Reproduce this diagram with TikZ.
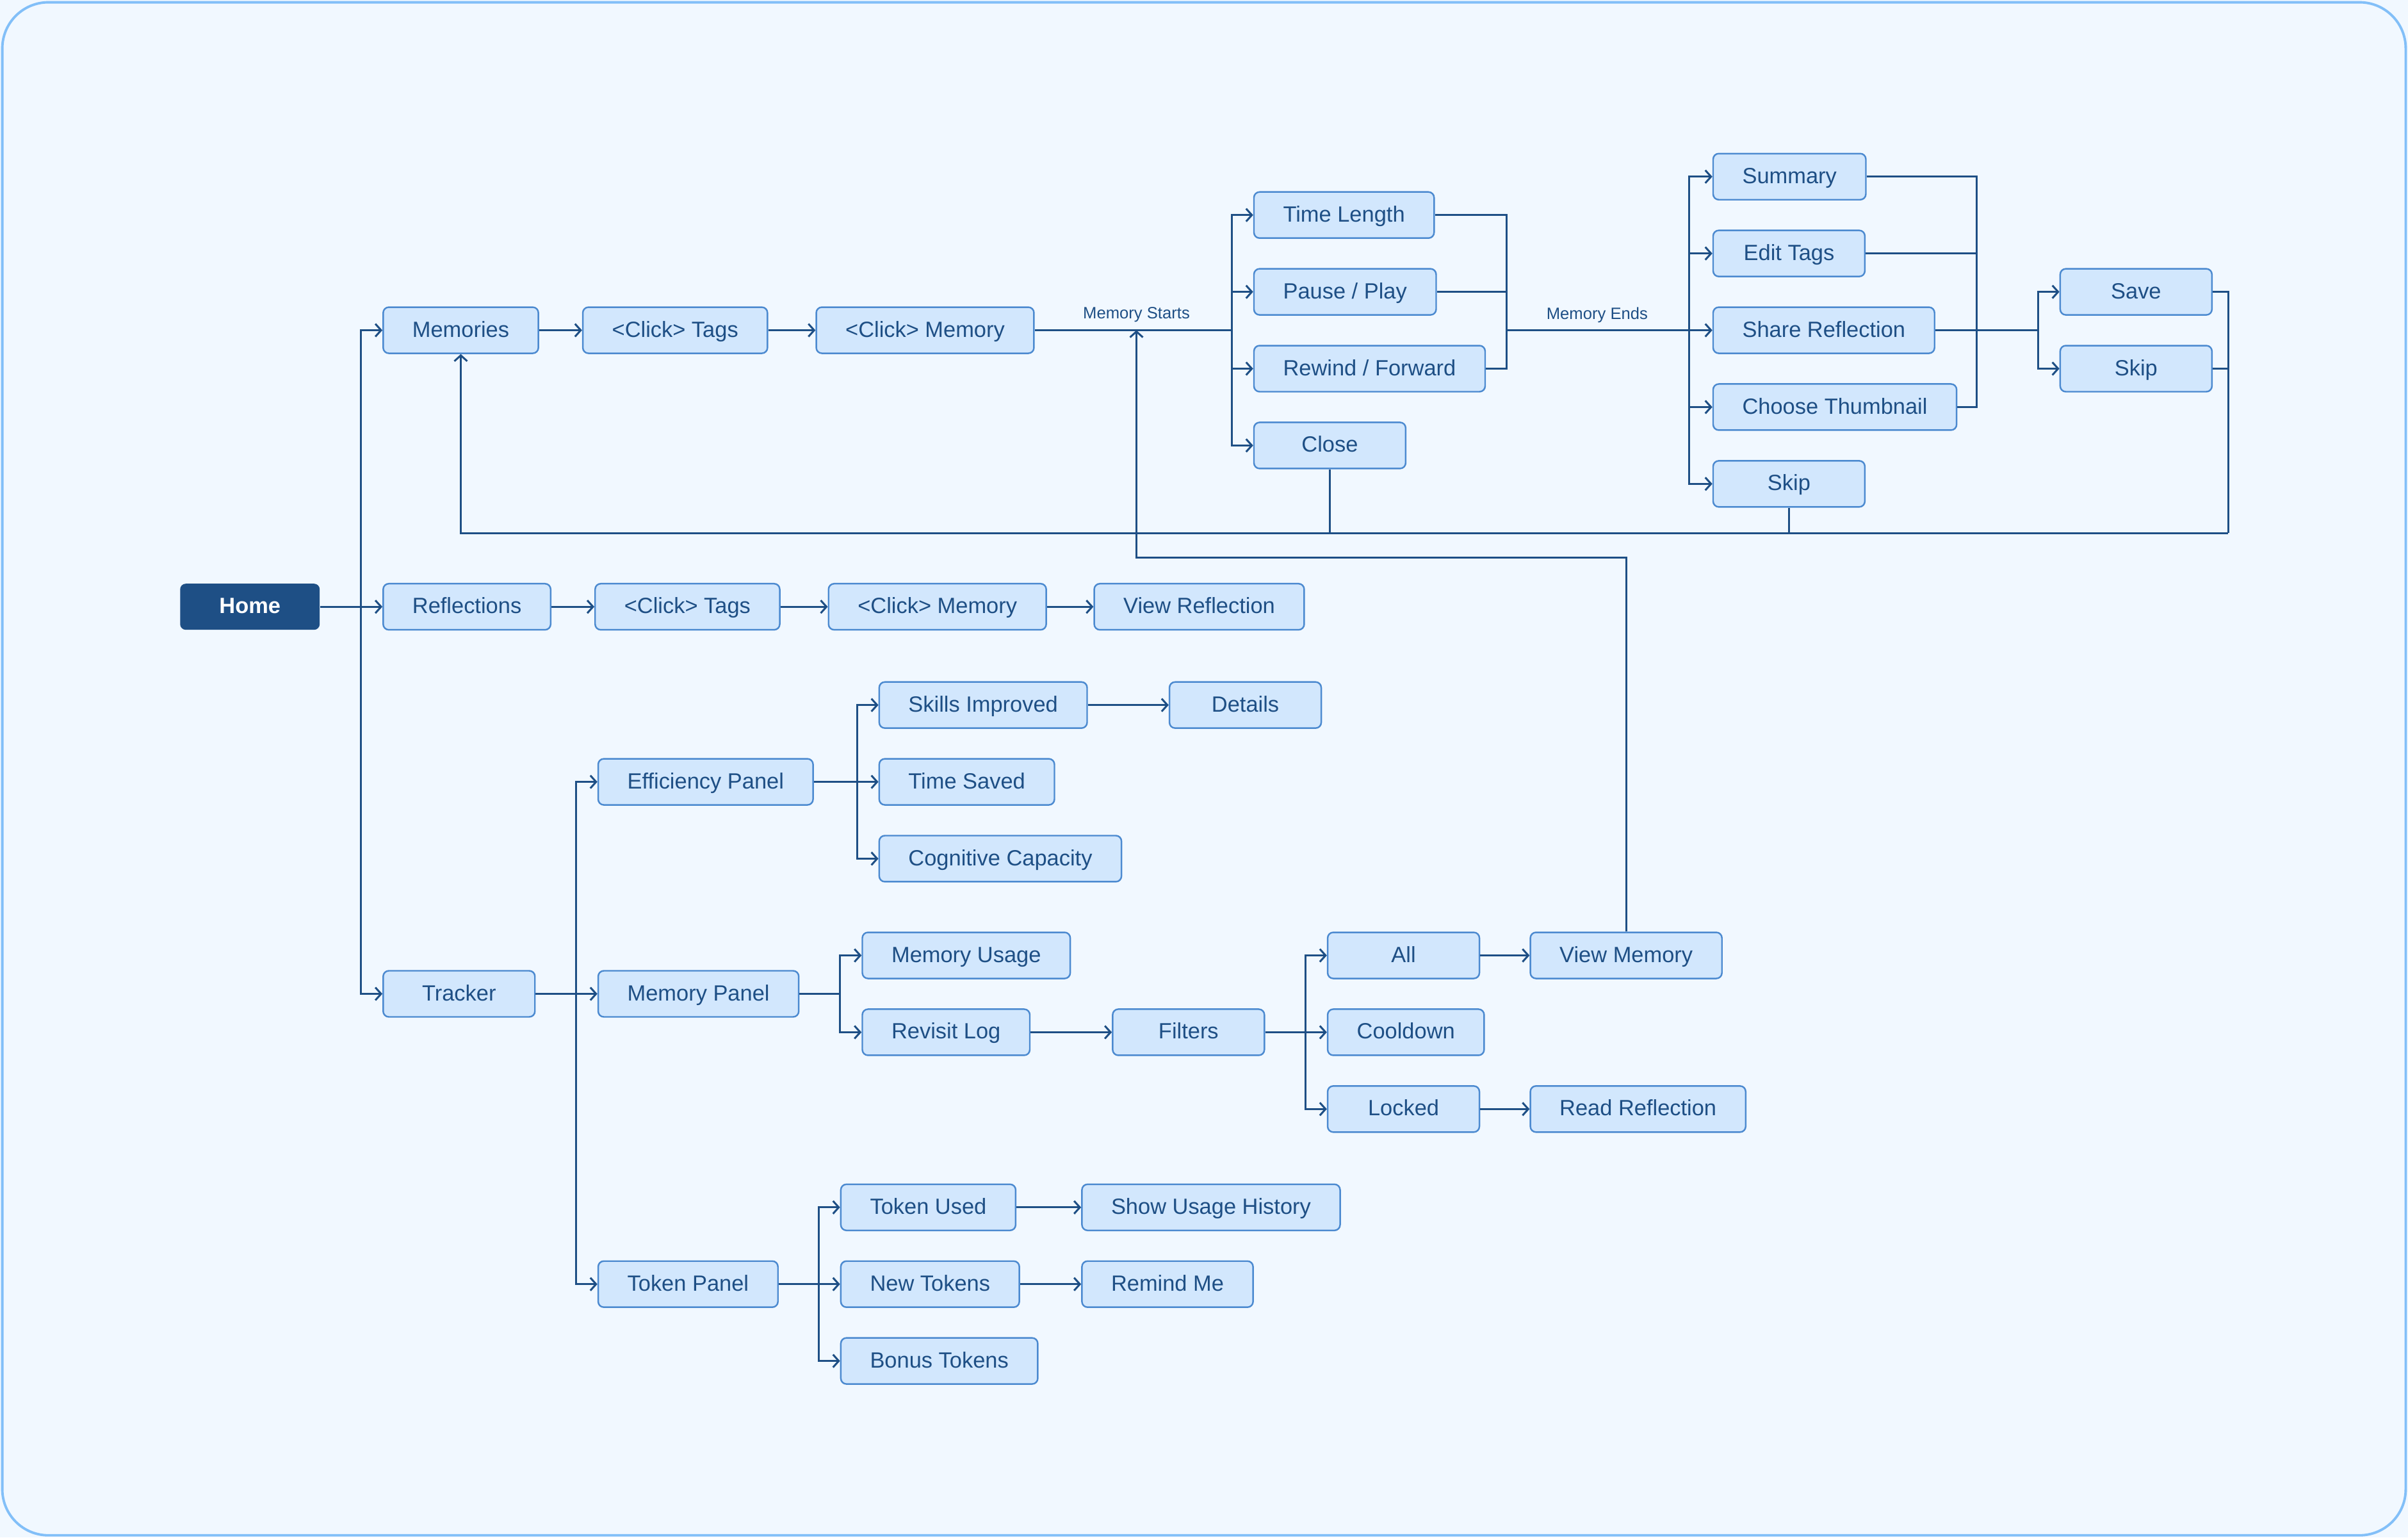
\documentclass[tikz,border=0pt]{standalone}
\usepackage{fontspec}
\setmainfont{Liberation Sans}
\usepackage{tikz}
\usetikzlibrary{arrows.meta, positioning, calc}
\definecolor{navy1}{RGB}{30, 79, 133}
\definecolor{fill1}{RGB}{210, 231, 253}
\definecolor{line1}{RGB}{76, 138, 208}
\definecolor{page1}{RGB}{241, 248, 255}
\definecolor{frame1}{RGB}{130, 191, 248}

\begin{document}
\begin{tikzpicture}[
  x={(0.02398cm,0)}, y={(0,-0.02398cm)},
  sbox/.style={draw=line1, fill=fill1, line width=0.7pt, rounded corners=2.5pt, minimum height=0.72cm, minimum width=2.37cm, inner xsep=0.456cm, text height=0.75em, text depth=0.15em, anchor=west, text=navy1, font=\fontsize{9.8}{12}\selectfont},
  homebox/.style={fill=navy1, rounded corners=2.5pt, minimum height=0.72cm, minimum width=2.18cm, text height=0.75em, text depth=0.15em, anchor=west, text=white, font=\fontsize{9.8}{12}\selectfont\bfseries},
  lbl/.style={text=navy1, font=\fontsize{7.3}{9}\selectfont, inner sep=1pt},
  conn/.style={draw=navy1, line width=0.85pt},
  arr/.style={conn, -{Straight Barb[length=0.09cm, width=0.2cm]}}
]
  \fill[page1] (0,0) rectangle (1568,1001);
  \useasboundingbox (0,0) rectangle (1568,1001);
  \draw[frame1, line width=1.1pt, rounded corners=0.72cm] (1.5,1.5) rectangle (1566.5,999.5);

  % Memories branch
  \node[homebox] (home) at (117,395) {Home};
  \node[sbox] (mem) at (249,215) {Memories};
  \node[sbox] (ctag1) at (379,215) {<Click> Tags};
  \node[sbox] (cmem1) at (531,215) {<Click> Memory};
  \node[sbox] (tlen) at (816,140) {Time Length};
  \node[sbox] (pause) at (816,190) {Pause / Play};
  \node[sbox] (rew) at (816,240) {Rewind / Forward};
  \node[sbox] (close) at (816,290) {Close};
  \node[sbox] (summ) at (1115,115) {Summary};
  \node[sbox] (edit) at (1115,165) {Edit Tags};
  \node[sbox] (share) at (1115,215) {Share Reflection};
  \node[sbox] (thumb) at (1115,265) {Choose Thumbnail};
  \node[sbox] (skip1) at (1115,315) {Skip};
  \node[sbox] (save) at (1341,190) {Save};
  \node[sbox] (skip2) at (1341,240) {Skip};
  \node[lbl] (lstart) at (740,205) {Memory Starts};
  \node[lbl] (lend) at (1040,205) {Memory Ends};

  % Reflections branch
  \node[sbox] (refl) at (249,395) {Reflections};
  \node[sbox] (ctag2) at (387,395) {<Click> Tags};
  \node[sbox] (cmem2) at (539,395) {<Click> Memory};
  \node[sbox] (vref) at (712,395) {View Reflection};

  % Tracker branch
  \node[sbox] (trk) at (249,647) {Tracker};
  \node[sbox] (effp) at (389,509) {Efficiency Panel};
  \node[sbox] (skill) at (572,459) {Skills Improved};
  \node[sbox] (det) at (761,459) {Details};
  \node[sbox] (tsav) at (572,509) {Time Saved};
  \node[sbox] (cogn) at (572,559) {Cognitive Capacity};
  \node[sbox] (mpan) at (389,647) {Memory Panel};
  \node[sbox] (muse) at (561,622) {Memory Usage};
  \node[sbox] (rlog) at (561,672) {Revisit Log};
  \node[sbox] (filt) at (724,672) {Filters};
  \node[sbox] (all) at (864,622) {All};
  \node[sbox] (cool) at (864,672) {Cooldown};
  \node[sbox] (lock) at (864,722) {Locked};
  \node[sbox] (vmem) at (996,622) {View Memory};
  \node[sbox] (rref) at (996,722) {Read Reflection};
  \node[sbox] (tokp) at (389,836) {Token Panel};
  \node[sbox] (tused) at (547,786) {Token Used};
  \node[sbox] (newt) at (547,836) {New Tokens};
  \node[sbox] (bonus) at (547,886) {Bonus Tokens};
  \node[sbox] (hist) at (704,786) {Show Usage History};
  \node[sbox] (remind) at (704,836) {Remind Me};

  \coordinate (b1) at (235,395);
  \coordinate (s1) at (802,215);
  \coordinate (e1) at (981,215);
  \coordinate (e2) at (1100,215);
  \coordinate (r1) at (1287,215);
  \coordinate (r2) at (1327,215);
  \coordinate (l1) at (1451,347);
  \coordinate (m1) at (740,215);
  \coordinate (m2) at (740,363);
  \coordinate (t1) at (375,647);
  \coordinate (f1) at (558,509);
  \coordinate (p1) at (547,647);
  \coordinate (q1) at (850,672);
  \coordinate (k1) at (533,836);

  \draw[arr] (home) -- (refl);
  \draw[arr] (b1) |- (mem);
  \draw[arr] (b1) |- (trk);
  \draw[arr] (mem) -- (ctag1);
  \draw[arr] (ctag1) -- (cmem1);
  \draw[conn] (cmem1) -- (s1);
  \foreach \n in {tlen, pause, rew, close}
    \draw[arr] (s1) |- (\n);
  \foreach \n in {tlen, pause, rew}
    \draw[conn] (\n.east) -| (e1);
  \draw[conn] (e1) -- (e2);
  \foreach \n in {summ, edit, share, thumb, skip1}
    \draw[arr] (e2) |- (\n);
  \foreach \n in {summ, edit, thumb}
    \draw[conn] (\n.east) -| (r1);
  \draw[conn] (share) -- (r2);
  \draw[arr] (r2) |- (save);
  \draw[arr] (r2) |- (skip2);
  \draw[conn] (save.east) -| (l1);
  \draw[conn] (skip2.east) -| (l1);
  \draw[conn] (close.south) -- (close.south |- l1);
  \draw[conn] (skip1.south) -- (skip1.south |- l1);
  \draw[arr] (l1) -| (mem.south);
  \draw[arr] (vmem.north) |- (m2) -- (m1);

  \draw[arr] (refl) -- (ctag2);
  \draw[arr] (ctag2) -- (cmem2);
  \draw[arr] (cmem2) -- (vref);

  \draw[arr] (trk) -- (mpan);
  \draw[arr] (t1) |- (effp);
  \draw[arr] (t1) |- (tokp);
  \draw[arr] (effp) -- (tsav);
  \draw[arr] (f1) |- (skill);
  \draw[arr] (f1) |- (cogn);
  \draw[arr] (skill) -- (det);
  \draw[conn] (mpan) -- (p1);
  \draw[arr] (p1) |- (muse);
  \draw[arr] (p1) |- (rlog);
  \draw[arr] (rlog) -- (filt);
  \draw[arr] (filt) -- (cool);
  \draw[arr] (q1) |- (all);
  \draw[arr] (q1) |- (lock);
  \draw[arr] (all) -- (vmem);
  \draw[arr] (lock) -- (rref);
  \draw[arr] (tokp) -- (newt);
  \draw[arr] (k1) |- (tused);
  \draw[arr] (k1) |- (bonus);
  \draw[arr] (tused) -- (hist);
  \draw[arr] (newt) -- (remind);
\end{tikzpicture}
\end{document}
